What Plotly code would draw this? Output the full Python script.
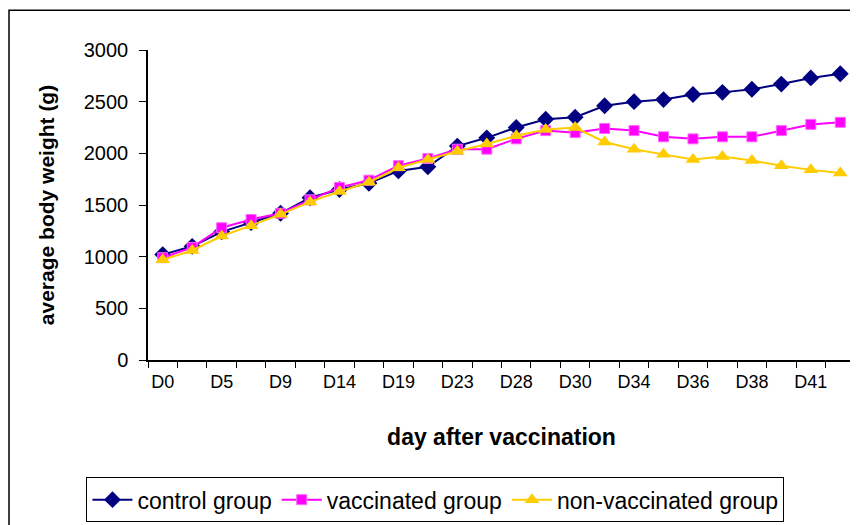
import plotly.graph_objects as go

days = ["D0", "D2", "D5", "D7", "D9", "D12", "D14", "D16", "D19", "D21", "D23", "D26",
        "D28", "D29", "D30", "D32", "D34", "D35", "D36", "D37", "D38", "D40", "D41", "D43"]
labeled_days = ["D0", "D5", "D9", "D14", "D19", "D23", "D28", "D30", "D34", "D36", "D38", "D41"]

control = [1020, 1100, 1240, 1330, 1420, 1570, 1650, 1710, 1830, 1870, 2070, 2150,
           2250, 2330, 2350, 2460, 2500, 2520, 2570, 2590, 2620, 2670, 2730, 2770]
vaccinated = [990, 1090, 1280, 1360, 1420, 1550, 1670, 1740, 1880, 1950, 2040, 2040,
              2140, 2220, 2200, 2240, 2220, 2160, 2140, 2160, 2160, 2220, 2280, 2300]
non_vaccinated = [970, 1060, 1200, 1300, 1410, 1530, 1630, 1720, 1860, 1940, 2020, 2090,
                  2170, 2230, 2250, 2110, 2040, 1990, 1940, 1970, 1930, 1880, 1840, 1810]

ticktext = [d if d in labeled_days else "" for d in days]

fig = go.Figure()
fig.add_trace(go.Scatter(x=days, y=control, name="control group", mode="lines+markers",
                         line=dict(color="#000080", width=2),
                         marker=dict(symbol="diamond", size=13, color="#000080")))
fig.add_trace(go.Scatter(x=days, y=vaccinated, name="vaccinated group", mode="lines+markers",
                         line=dict(color="#FF00FF", width=2),
                         marker=dict(symbol="square", size=10, color="#FF00FF",
                                     line=dict(color="#FF66FF", width=1))))
fig.add_trace(go.Scatter(x=days, y=non_vaccinated, name="non-vaccinated group", mode="lines+markers",
                         line=dict(color="#FFCC00", width=2),
                         marker=dict(symbol="triangle-up", size=13, color="#FFCC00")))

font = "Liberation Sans, Arial, sans-serif"
fig.update_layout(
    width=858, height=525,
    margin=dict(l=140, r=11, t=42, b=171),
    paper_bgcolor="white", plot_bgcolor="white",
    font=dict(family=font, color="black", size=18),
    showlegend=True,
    legend=dict(orientation="h", x=0.4066, xanchor="center", y=-0.378, yanchor="top",
                bordercolor="black", borderwidth=1, font=dict(size=23),
                itemwidth=40, traceorder="normal"),
    xaxis=dict(type="category", categoryorder="array", categoryarray=days,
               range=[-0.5, len(days) - 0.5],
               tickmode="array", tickvals=days, ticktext=ticktext, tickangle=0,
               tickson="boundaries", ticks="outside", ticklen=6, tickcolor="black",
               ticklabelstandoff=5,
               showline=True, linecolor="black", linewidth=1.5,
               showgrid=False, zeroline=False,
               tickfont=dict(size=18),
               title=dict(text="<b>day after vaccination</b>", font=dict(size=23), standoff=38),
               automargin=False),
    yaxis=dict(range=[0, 3000], tickmode="linear", tick0=0, dtick=500,
               ticks="outside", ticklen=7, tickcolor="black",
               ticklabelstandoff=7,
               showline=True, linecolor="black", linewidth=1.5,
               showgrid=False, zeroline=False,
               tickfont=dict(size=20),
               title=dict(text="<b>average body weight (g)</b>", font=dict(size=21), standoff=23),
               automargin=False),
    shapes=[dict(type="rect", xref="paper", yref="paper",
                 x0=-0.1966, y0=-1.0, x1=1.2, y1=1.128,
                 line=dict(color="black", width=1.5), fillcolor="rgba(0,0,0,0)", layer="below")],
)

fig.write_html("out.html")
